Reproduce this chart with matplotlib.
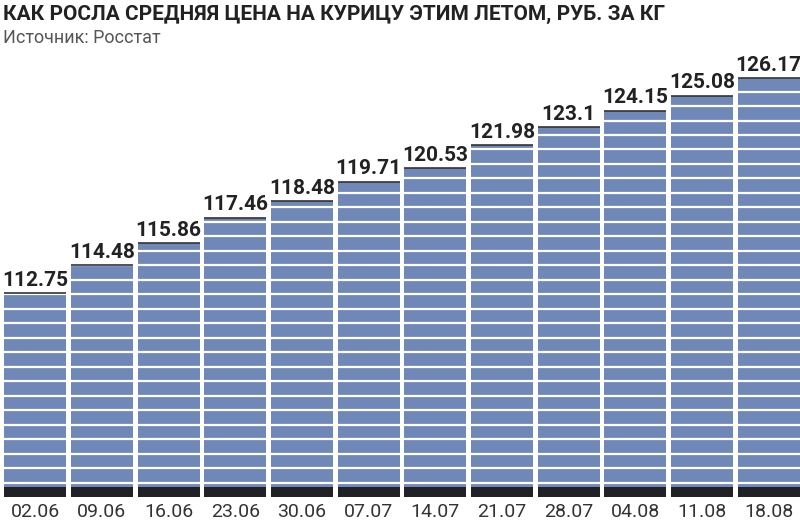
import matplotlib
matplotlib.use("Agg")
import matplotlib.pyplot as plt
from matplotlib import font_manager as fm

dates = ["02.06","09.06","16.06","23.06","30.06","07.07","14.07","21.07","28.07","04.08","11.08","18.08"]
prices = [112.75,114.48,115.86,117.46,118.48,119.71,120.53,121.98,123.1,124.15,125.08,126.17]
labels = ["112.75","114.48","115.86","117.46","118.48","119.71","120.53","121.98","123.1","124.15","125.08","126.17"]

names = {f.name for f in fm.fontManager.ttflist}
narrow = "Liberation Sans Narrow" if "Liberation Sans Narrow" in names else "Roboto"
fam = [narrow, "DejaVu Sans"]

fig = plt.figure(figsize=(8, 5.26), dpi=100)
ax = fig.add_axes([0, 0.0551, 1, 0.831])
base = 100.0
x = list(range(len(dates)))
ax.bar(x, [p - base for p in prices], bottom=base, width=0.93, color="#7088b8", zorder=1)
ax.bar(x, [0.6]*len(x), bottom=base, width=0.93, color="#222226", zorder=3)
ax.hlines(prices, [i-0.465 for i in x], [i+0.465 for i in x], color="#333", lw=1.2, zorder=4)
y = base + 0.6 + 0.3
while y < 127:
    ax.axhline(y, color="white", lw=1.6, zorder=2)
    y += 0.905
ax.set_xlim(-0.53, 11.47)
ax.set_ylim(base, base + (497-60)/16)
for i, (p, l) in enumerate(zip(prices, labels)):
    ax.text(i, p + 0.2, l, ha="center", va="bottom", fontsize=15, fontweight="bold",
            family=fam, color="#222")
for i, d in enumerate(dates):
    ax.text(i, base - 0.35, d, ha="center", va="top", fontsize=14, family=fam, color="#333", clip_on=False)
ax.axis("off")
fig.text(0.004, 0.99, "КАК РОСЛА СРЕДНЯЯ ЦЕНА НА КУРИЦУ ЭТИМ ЛЕТОМ, РУБ. ЗА КГ", ha="left", va="top",
         fontsize=15, fontweight="bold", family=fam, color="#222")
fig.text(0.004, 0.945, "Источник: Росстат", ha="left", va="top", fontsize=13, family=fam, color="#555")
fig.savefig("out.png", dpi=100)
